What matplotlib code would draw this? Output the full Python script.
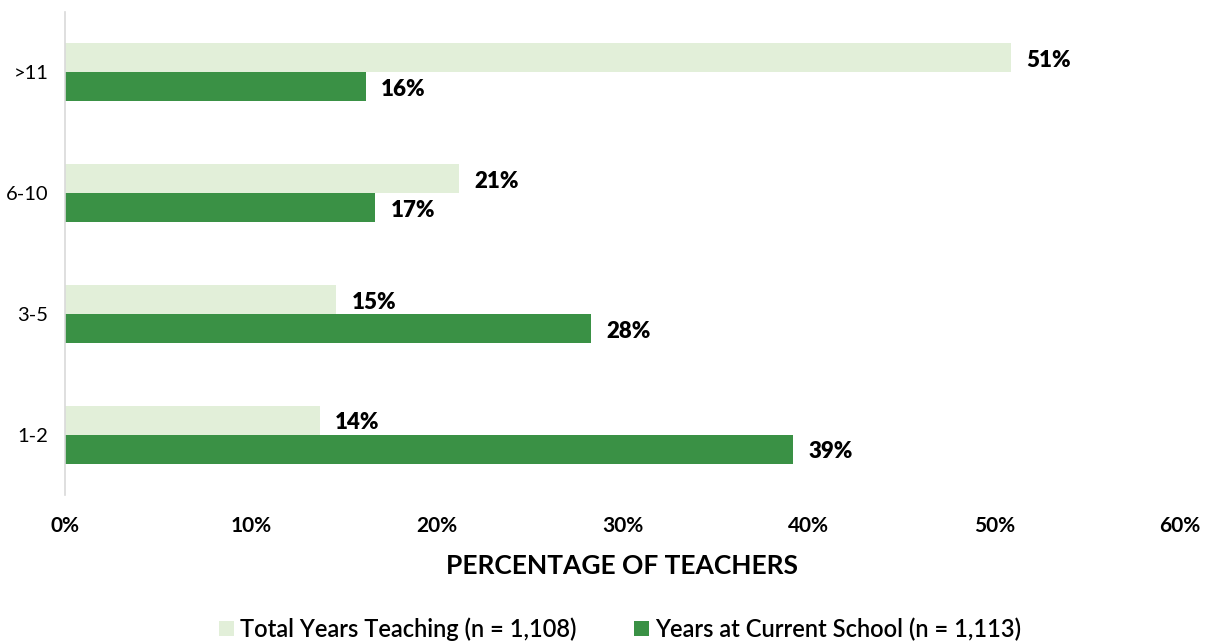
import matplotlib
matplotlib.use("Agg")
import matplotlib.pyplot as plt
import numpy as np

categories = ["1-2", "3-5", "6-10", ">11"]
total_years = [13.7, 14.6, 21.2, 50.9]
current_school = [39.2, 28.3, 16.7, 16.2]
series_names = ["Total Years Teaching (n = 1,108)", "Years at Current School (n = 1,113)"]
xticks = [0, 10, 20, 30, 40, 50, 60]

plt.rcParams['font.family'] = ['Lato', 'DejaVu Sans']

fig = plt.figure(figsize=(12.15, 6.41), dpi=100)
ax = fig.add_axes([65/1215, 1-495/641, (1180-65)/1215, (495-12)/641])

y = np.arange(len(categories))
h = 0.24
light = "#E2EFD9"
dark = "#3A9145"
b1 = ax.barh(y + h/2, total_years, height=h, color=light, label=series_names[0])
b2 = ax.barh(y - h/2, current_school, height=h, color=dark, label=series_names[1])

for bars, vals in ((b1, total_years), (b2, current_school)):
    for rect, v in zip(bars, vals):
        ax.annotate(f"{round(v)}%", (rect.get_width(), rect.get_y() + rect.get_height()/2),
                    xytext=(11, -2), textcoords="offset points", ha="left", va="center",
                    fontsize=16, fontweight="heavy", color="black")

ax.set_xlim(0, 60)
ax.set_ylim(-0.5, 3.5)
ax.set_xticks(xticks)
ax.set_xticklabels([f"{t}%" for t in xticks], fontsize=15, fontweight="bold")
ax.set_yticks(y)
ax.set_yticklabels(categories, fontsize=14.5)
ax.tick_params(axis="both", length=0)
ax.tick_params(axis="x", pad=15)
ax.tick_params(axis="y", pad=12)
for s in ("top", "right", "bottom"):
    ax.spines[s].set_visible(False)
ax.spines["left"].set_color("#D9D9D9")
ax.spines["left"].set_linewidth(1.2)

ax.set_xlabel("PERCENTAGE OF TEACHERS", fontsize=19, fontweight="bold", labelpad=13)

fig.legend(handles=[b1, b2], loc="center", bbox_to_anchor=(620/1215, 1-629/641),
           ncol=2, frameon=False, handlelength=0.65, handleheight=0.65,
           handletextpad=0.25, columnspacing=2.4, prop={'size': 17, 'weight': 'semibold'})

fig.savefig("out.png", dpi=100)
